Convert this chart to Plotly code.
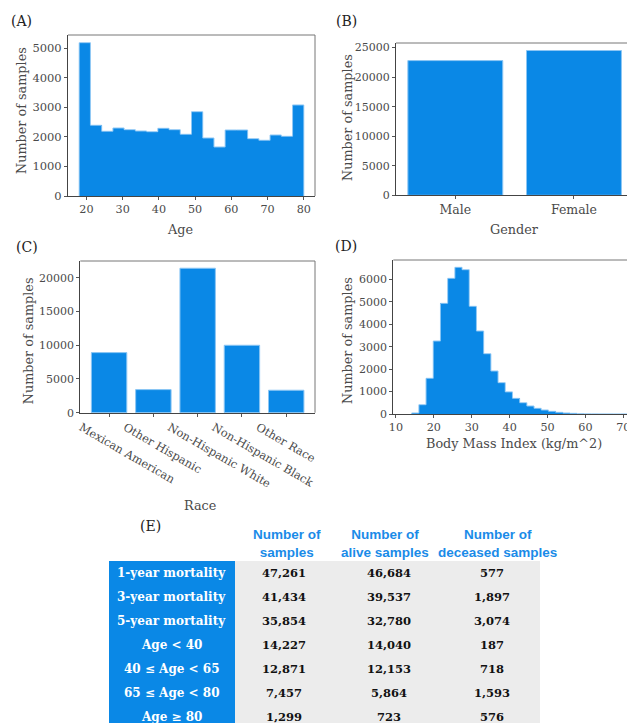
import numpy as np
import plotly.graph_objects as go

# ---------------- data ----------------
age_bin_edges = np.linspace(18, 80, 21)
age_counts = [5190, 2393, 2190, 2302, 2245, 2200, 2177, 2291, 2245, 2088,
              2854, 1963, 1659, 2234, 2234, 1941, 1885, 2065, 2020, 3081]

genders = ["Male", "Female"]
gender_counts = [22800, 24500]

races = ["Mexican American", "Other Hispanic", "Non-Hispanic White",
         "Non-Hispanic Black", "Other Race"]
race_counts = [8900, 3420, 21400, 9990, 3330]

bmi_bin_start = 14.14
bmi_bin_width = 1.90
bmi_counts = [45, 415, 1590, 3252, 4930, 6044, 6535, 6430, 4797, 3697,
              2687, 1915, 1396, 985, 697, 503, 356, 252, 178, 119,
              74, 45, 30, 15, 8, 6, 4, 3, 2, 2]

row_labels = ["1-year mortality", "3-year mortality", "5-year mortality",
              "Age < 40", "40 ≤ Age < 65", "65 ≤ Age < 80", "Age ≥ 80"]
n_samples = [47261, 41434, 35854, 14227, 12871, 7457, 1299]
n_alive = [46684, 39537, 32780, 14040, 12153, 5864, 723]
n_deceased = [577, 1897, 3074, 187, 718, 1593, 576]
table_headers = ["Number of<br>samples", "Number of<br>alive samples",
                 "Number of<br>deceased samples"]

# ---------------- styling ----------------
W, H = 627, 723
BAR = "#0a88e6"
EDGE = "#8cc6f4"
SERIF = "DejaVu Serif"
TXT = "#4a4a4a"


def xp(px):
    return px / W


def yp(py):
    return 1 - py / H


fig = go.Figure()


def step_outline(edges, counts):
    xs = [edges[0]]
    ys = [0]
    for i, c in enumerate(counts):
        xs.append(edges[i])
        ys.append(c)
    xs += [edges[len(counts)], edges[len(counts)]]
    ys += [counts[-1], 0]
    return xs, ys


# (A) age histogram
age_centers = (age_bin_edges[:-1] + age_bin_edges[1:]) / 2
age_w = age_bin_edges[1] - age_bin_edges[0]
fig.add_trace(go.Bar(x=age_centers, y=age_counts, width=age_w,
                     marker=dict(color=BAR, line=dict(width=0)),
                     xaxis="x", yaxis="y", showlegend=False))
sx, sy = step_outline(list(age_bin_edges), age_counts)
fig.add_trace(go.Scatter(x=sx, y=sy, mode="lines", line=dict(shape="hv", color=EDGE, width=1),
                         xaxis="x", yaxis="y", showlegend=False, hoverinfo="skip"))

# (B) gender
fig.add_trace(go.Bar(x=genders, y=gender_counts, width=0.8,
                     marker=dict(color=BAR, line=dict(color=EDGE, width=1)),
                     xaxis="x2", yaxis="y2", showlegend=False))

# (C) race
fig.add_trace(go.Bar(x=races, y=race_counts, width=0.8,
                     marker=dict(color=BAR, line=dict(color=EDGE, width=1)),
                     xaxis="x3", yaxis="y3", showlegend=False))

# (D) BMI histogram
bmi_edges = [bmi_bin_start + bmi_bin_width * i for i in range(len(bmi_counts) + 1)]
bmi_centers = [(bmi_edges[i] + bmi_edges[i + 1]) / 2 for i in range(len(bmi_counts))]
fig.add_trace(go.Bar(x=bmi_centers, y=bmi_counts, width=bmi_bin_width,
                     marker=dict(color=BAR, line=dict(width=0)),
                     xaxis="x4", yaxis="y4", showlegend=False))
sx, sy = step_outline(bmi_edges, bmi_counts)
fig.add_trace(go.Scatter(x=sx, y=sy, mode="lines", line=dict(shape="hv", color=EDGE, width=1),
                         xaxis="x4", yaxis="y4", showlegend=False, hoverinfo="skip"))

axis_common = dict(showline=True, linecolor="#444", linewidth=1, ticks="outside",
                   ticklen=3, tickcolor="#555", showgrid=False, zeroline=False,
                   automargin=False, fixedrange=True, ticklabeloverflow="allow")


def tf(size):
    return dict(family=SERIF, size=size, color=TXT)


fig.update_layout(
    template="none",
    width=W, height=H, margin=dict(l=0, r=0, t=0, b=0, autoexpand=False),
    paper_bgcolor="white", plot_bgcolor="white", bargap=0, showlegend=False,
    xaxis=dict(domain=[xp(68), xp(315)], range=[14.9, 83.1], anchor="y",
               tickvals=[20, 30, 40, 50, 60, 70, 80], tickfont=tf(11.2), **axis_common),
    yaxis=dict(domain=[yp(196), yp(35)], range=[0, 5450], anchor="x",
               tickvals=[0, 1000, 2000, 3000, 4000, 5000], tickformat="d",
               tickfont=tf(11.5), **axis_common),
    xaxis2=dict(domain=[xp(396), 1], range=[-0.5, 1.447], anchor="y2",
                type="category", tickfont=tf(12.5), **axis_common),
    yaxis2=dict(domain=[yp(195.3), yp(43)], range=[0, 25775], anchor="x2",
                tickvals=[0, 5000, 10000, 15000, 20000, 25000], tickformat="d",
                tickfont=tf(11), **axis_common),
    xaxis3=dict(domain=[xp(80.3), xp(315)], range=[-0.65, 4.65], anchor="y3",
                type="category", tickangle=30, ticklabelshift=-28,
                tickfont=tf(11.4), **axis_common),
    yaxis3=dict(domain=[yp(412.7), yp(261)], range=[0, 22470], anchor="x3",
                tickvals=[0, 5000, 10000, 15000, 20000], tickformat="d",
                tickfont=tf(11), **axis_common),
    xaxis4=dict(domain=[xp(393.3), 1], range=[9.29, 70.98], anchor="y4",
                tickvals=[10, 20, 30, 40, 50, 60, 70], tickfont=tf(11.2), **axis_common),
    yaxis4=dict(domain=[yp(414), yp(260)], range=[0, 6862], anchor="x4",
                tickvals=[0, 1000, 2000, 3000, 4000, 5000, 6000], tickformat="d",
                tickfont=tf(11), **axis_common),
)

# frame top/right lines
frames = [("x", "y", True), ("x2", "y2", False), ("x3", "y3", True), ("x4", "y4", False)]
for xa, ya, right in frames:
    fig.add_shape(type="line", xref=xa + " domain", yref=ya + " domain",
                  x0=0, x1=1, y0=1, y1=1, line=dict(color="#777", width=1))
    if right:
        fig.add_shape(type="line", xref=xa + " domain", yref=ya + " domain",
                      x0=1, x1=1, y0=0, y1=1, line=dict(color="#777", width=1))


def ann(text, cx, cy, size, angle=0, color=TXT, family=SERIF):
    fig.add_annotation(text=text, x=xp(cx), y=yp(cy), xref="paper", yref="paper",
                       xanchor="center", yanchor="middle", showarrow=False,
                       textangle=angle, font=dict(family=family, size=size, color=color))


ann("Age", 180.3, 229, 12.8)
ann("Gender", 514, 229, 12.8)
ann("Race", 200, 506, 12.8)
ann("Body Mass Index (kg/m^2)", 514, 443, 12.8)
ann("Number of samples", 21, 111, 12.8, -90)
ann("Number of samples", 347.5, 117.5, 12.8, -90)
ann("Number of samples", 28.3, 341, 12.8, -90)
ann("Number of samples", 347, 341, 12.8, -90)
ann("(A)", 21, 21, 14, color="#222")
ann("(B)", 346, 21, 14, color="#222")
ann("(C)", 27, 247, 14, color="#222")
ann("(D)", 346, 246, 14, color="#222")
ann("(E)", 150, 526, 14, color="#222")

# ---------------- (E) table ----------------
TBL_TOP = 561
ROW_H = 24
label_col = (109, 235)
value_cols_right = 540
fig.add_shape(type="rect", xref="paper", yref="paper", x0=xp(label_col[0]), x1=xp(label_col[1]),
              y0=0, y1=yp(TBL_TOP), fillcolor=BAR, line=dict(width=0), layer="below")
fig.add_shape(type="rect", xref="paper", yref="paper", x0=xp(label_col[1]), x1=xp(value_cols_right),
              y0=0, y1=yp(TBL_TOP), fillcolor="#ececec", line=dict(width=0), layer="below")

header_cx = [286.7, 385, 497.7]
cell_cx = [283.7, 388.7, 492]
for h, cx in zip(table_headers, header_cx):
    ann("<b>" + h + "</b>", cx, 543.5, 13.5, color="#1a8be8", family="Liberation Sans")

for i, lab in enumerate(row_labels):
    cy = TBL_TOP + ROW_H * (i + 0.5)
    ann("<b>" + lab + "</b>", 171.7, cy, 12, color="white")
    for vals, cx in zip([n_samples, n_alive, n_deceased], cell_cx):
        ann("<b>" + f"{vals[i]:,}" + "</b>", cx, cy, 11.5, color="#111")

fig.write_html("out.html", config={"displayModeBar": False, "staticPlot": True},
               post_script="document.body.style.margin='0px';document.body.style.padding='0px';")
